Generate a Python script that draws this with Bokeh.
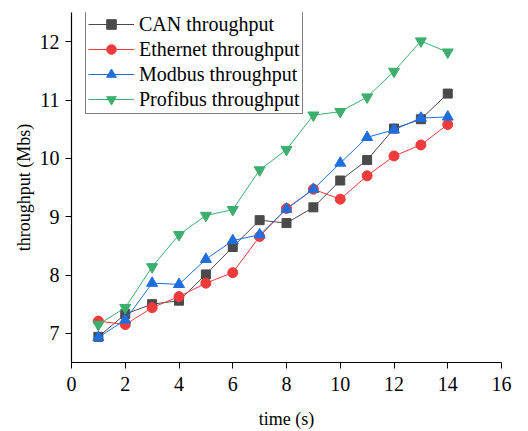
from bokeh.plotting import figure
from bokeh.models import Legend, LegendItem, Range1d
from bokeh.embed import file_html
from bokeh.resources import INLINE

# time steps (s)
time_s = [1, 2, 3, 4, 5, 6, 7, 8, 9, 10, 11, 12, 13, 14]

# throughput per protocol (Mbs)
can_tp = [6.94, 7.33, 7.50, 7.56, 8.01, 8.48, 8.94, 8.89, 9.16, 9.62, 9.97, 10.51, 10.67, 11.11]
ethernet_tp = [7.21, 7.15, 7.44, 7.63, 7.86, 8.04, 8.66, 9.14, 9.47, 9.30, 9.70, 10.04, 10.23, 10.58]
modbus_tp = [6.93, 7.23, 7.86, 7.84, 8.27, 8.59, 8.69, 9.13, 9.47, 9.92, 10.36, 10.49, 10.69, 10.71]
profibus_tp = [7.15, 7.44, 8.14, 8.69, 9.02, 9.12, 9.80, 10.15, 10.74, 10.80, 11.05, 11.49, 12.01, 11.82]

series_names = ["CAN throughput", "Ethernet throughput", "Modbus throughput", "Profibus throughput"]
x_ticks = [0, 2, 4, 6, 8, 10, 12, 14, 16]
y_ticks = [7, 8, 9, 10, 11, 12]

FONT = "Liberation Serif"

p = figure(width=528, height=431, output_backend="svg", toolbar_location=None,
           x_range=Range1d(0, 16), y_range=Range1d(6.5, 12.5),
           min_border_left=71, min_border_right=27, min_border_top=12, min_border_bottom=68)
p.outline_line_color = None
p.grid.visible = False
p.background_fill_color = "white"
p.border_fill_color = "white"

styles = [
    (can_tp, "#4a4a4a", "square", 9),
    (ethernet_tp, "#ef3b3b", "circle", 10),
    (modbus_tp, "#1f6ee0", "triangle", 11),
    (profibus_tp, "#3cae6e", "inverted_triangle", 11),
]

items = []
for name, (ys, color, marker, size) in zip(series_names, styles):
    ln = p.line(time_s, ys, line_color=color, line_width=1.0)
    sc = p.scatter(time_s, ys, marker=marker, size=size, fill_color=color, line_color=color)
    items.append(LegendItem(label=name, renderers=[ln, sc]))

legend = Legend(items=items, location=(14, 248))
legend.label_text_font = FONT
legend.label_text_font_size = "20px"
legend.label_text_color = "black"
legend.border_line_color = "black"
legend.border_line_width = 1
legend.background_fill_alpha = 1
legend.spacing = 1
legend.padding = 2
legend.margin = 0
legend.glyph_width = 46
legend.glyph_height = 24
legend.label_height = 24
legend.label_standoff = 5
p.add_layout(legend)

for ax, ticks in ((p.xaxis, x_ticks), (p.yaxis, y_ticks)):
    ax.ticker = ticks
    ax.major_label_text_font = FONT
    ax.major_label_text_font_size = "20px"
    ax.major_label_text_color = "black"
    ax.axis_label_text_font = FONT
    ax.axis_label_text_font_size = "18px"
    ax.axis_label_text_font_style = "normal"
    ax.axis_label_text_color = "black"
    ax.axis_line_color = "black"
    ax.axis_line_width = 1.2
    ax.major_tick_line_color = "black"
    ax.major_tick_out = 6
    ax.major_tick_in = 0
    ax.minor_tick_line_color = "black"
    ax.minor_tick_out = 4
    ax.minor_tick_in = 0

p.xaxis.ticker.num_minor_ticks = 2
p.yaxis.ticker.num_minor_ticks = 2
p.xaxis.axis_label = "time (s)"
p.yaxis.axis_label = "throughput (Mbs)"
p.xaxis.major_label_standoff = 8
p.xaxis.axis_label_standoff = 15
p.yaxis.major_label_standoff = 6
p.yaxis.axis_label_standoff = 3

open("out.html", "w").write(file_html(p, INLINE))
